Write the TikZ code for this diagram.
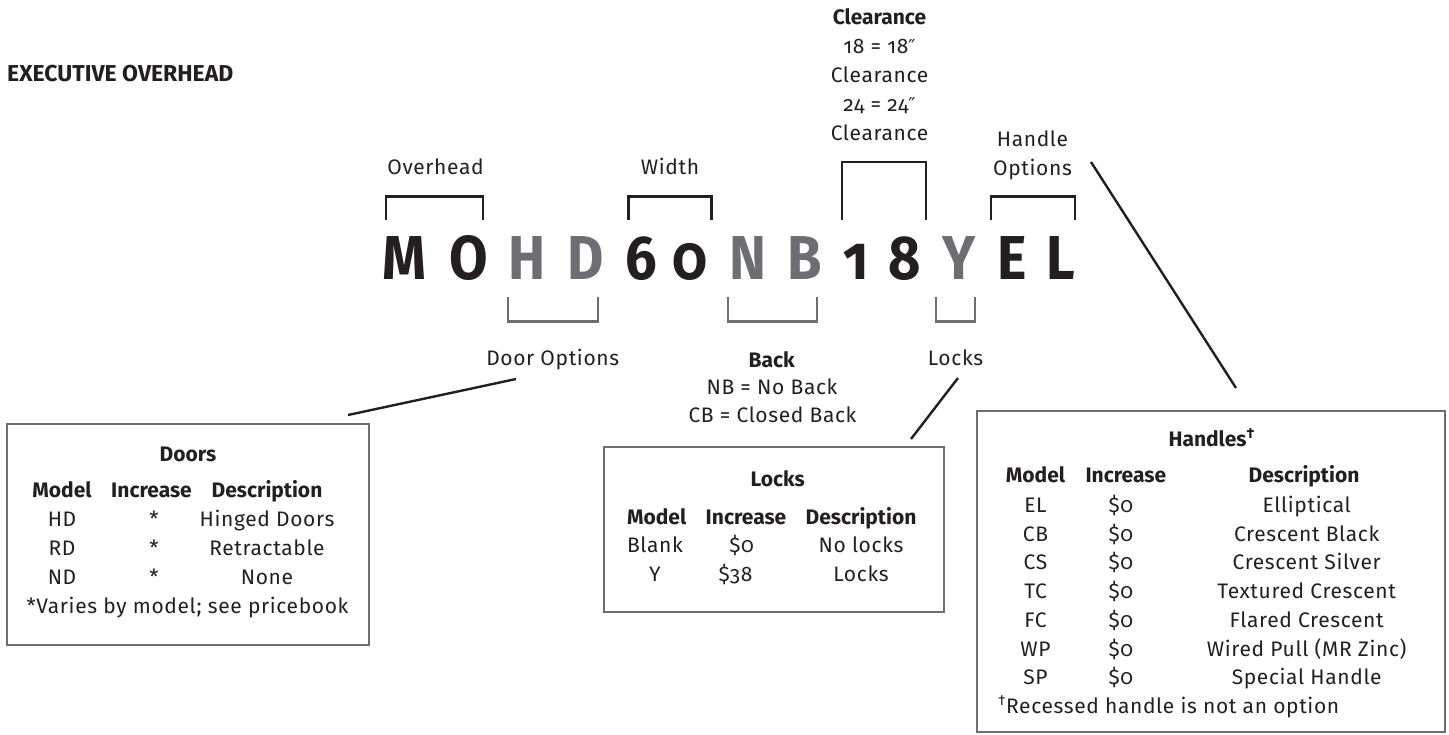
\documentclass[tikz,border=0pt]{standalone}
\usepackage{fontspec}
\setmainfont{Fira Sans}[Numbers=OldStyle]
\newfontfamily\regf{Fira Sans}[Numbers=OldStyle,LetterSpace=3]
\newfontfamily\symf{DejaVu Sans}
\definecolor{ink}{HTML}{231F20}
\definecolor{mid}{HTML}{6D6E71}
\newcommand{\dprime}{{\symf\fontsize{19}{25}\selectfont ″}}
\begin{document}
\begin{tikzpicture}[x=1pt,y=-1pt,
  txt/.style={anchor=base, inner sep=0pt, text=ink, font=\fontsize{21}{25}\regf},
  btxt/.style={anchor=base, inner sep=0pt, text=ink, font=\fontsize{21}{25}\selectfont\bfseries},
  big/.style={anchor=base, inner sep=0pt, font=\fontsize{62}{62}\selectfont\bfseries},
  dk/.style={text=ink},
  gr/.style={text=mid},
  brk/.style={draw=ink, line width=2.6pt},
  lbrk/.style={draw=mid, line width=2.6pt},
  box/.style={draw=mid, line width=2.5pt, inner sep=0pt},
  lead/.style={draw=ink, line width=2.4pt}]
\useasboundingbox (0,0) rectangle (1449,735);

% title
\node[anchor=base west, inner sep=0pt, text=ink, font=\fontsize{23}{25}\selectfont\bfseries] (title) at (7,81.7) {EXECUTIVE OVERHEAD};

% big code letters
\node[big,dk] (cM) at (404.7,279.3) {\scalebox{0.9}[1]{M}};
\node[big,dk] (cO) at (468.3,279.3) {\scalebox{0.9}[1]{O}};
\node[big,gr] (cH) at (527,279.3) {\scalebox{0.9}[1]{H}};
\node[big,gr] (cD) at (586,279.3) {\scalebox{0.9}[1]{D}};
\node[big,dk] (c6) at (641,279.3) {\scalebox{0.9}[1]{6}};
\node[big,dk] (c0) at (690,279.3) {\scalebox{0.9}[1]{0}};
\node[big,gr] (cN) at (747.5,279.3) {\scalebox{0.9}[1]{N}};
\node[big,gr] (cB) at (805,279.3) {\scalebox{0.9}[1]{B}};
\node[big,dk] (c1) at (856,279.3) {\scalebox{0.9}[1]{1}};
\node[big,dk] (c8) at (905,279.3) {\scalebox{0.9}[1]{8}};
\node[big,gr] (cY) at (959,279.3) {\scalebox{0.9}[1]{Y}};
\node[big,dk] (cE) at (1011.7,279.3) {\scalebox{0.9}[1]{E}};
\node[big,dk] (cL) at (1061,279.3) {\scalebox{0.9}[1]{L}};

% top labels
\node[txt] (lover) at (435.5,174.5) {Overhead};
\node[txt] (lwidth) at (670,174.5) {Width};
\node[btxt] (lclr) at (879.5,25) {Clearance};
\node[txt] (lclr1) at (879.5,54) {18 = 18\dprime};
\node[txt] (lclr2) at (879.5,83) {Clearance};
\node[txt] (lclr3) at (879.5,112) {24 = 24\dprime};
\node[txt] (lclr4) at (879.5,141) {Clearance};
\node[txt] (lhand1) at (1032.5,147) {Handle};
\node[txt] (lhand2) at (1032.5,175.5) {Options};

% top brackets
\draw[brk] (386,220) -- (386,196.5) -- (483,196.5) -- (483,220);
\draw[brk] (628.5,220) -- (628.5,196.5) -- (711.5,196.5) -- (711.5,220);
\draw[brk] (842,220) -- (842,162) -- (926,162) -- (926,220);
\draw[brk] (991,220) -- (991,196.5) -- (1075,196.5) -- (1075,220);

% lower brackets
\draw[lbrk] (508,297) -- (508,321.5) -- (598,321.5) -- (598,297);
\draw[lbrk] (728,297) -- (728,321.5) -- (817,321.5) -- (817,297);
\draw[lbrk] (936,297) -- (936,321.5) -- (975,321.5) -- (975,297);

% lower labels
\node[txt] (ldoor) at (552.7,365.5) {Door Options};
\node[btxt] (lback) at (771.7,367.5) {Back};
\node[txt] (lback1) at (772,394.2) {NB = No Back};
\node[txt] (lback2) at (772.5,422.5) {CB = Closed Back};
\node[txt] (llocks) at (955.5,365.5) {Locks};

% boxes
\node[box, minimum width=362pt, minimum height=221pt] (doorsbox) at (188,534.5) {};
\node[box, minimum width=340pt, minimum height=165pt] (locksbox) at (774,529.5) {};
\node[box, minimum width=468pt, minimum height=321pt] (handbox) at (1211,571.5) {};

% leader lines
\coordinate (dA) at (516,379);
\coordinate (dB) at (348,415);
\coordinate (kA) at (958,378);
\coordinate (kB) at (911,439);
\coordinate (hA) at (1091,162);
\coordinate (hB) at (1236,388);
\draw[lead] (dA) -- (dB);
\draw[lead] (kA) -- (kB);
\draw[lead] (hA) -- (hB);

% Doors table
\node[btxt] (dT) at (188,461.5) {Doors};
\node[btxt] (dH1) at (62,497.5) {Model};
\node[btxt] (dH2) at (151.5,497.5) {Increase};
\node[btxt] (dH3) at (267,497.5) {Description};
\node[txt] (d11) at (62,526.5) {HD};
\node[txt] (d12) at (154,526.5) {*};
\node[txt] (d13) at (267,526.5) {Hinged Doors};
\node[txt] (d21) at (62,555.5) {RD};
\node[txt] (d22) at (154,555.5) {*};
\node[txt] (d23) at (267,555.5) {Retractable};
\node[txt] (d31) at (62,584.5) {ND};
\node[txt] (d32) at (154,584.5) {*};
\node[txt] (d33) at (267,584.5) {None};
\node[txt] (dF) at (187.5,613.5) {*Varies by model; see pricebook};

% Locks table
\node[btxt] (kT) at (777.7,486) {Locks};
\node[btxt] (kH1) at (656.7,524) {Model};
\node[btxt] (kH2) at (746,524) {Increase};
\node[btxt] (kH3) at (861,524) {Description};
\node[txt] (k11) at (655,552.5) {Blank};
\node[txt] (k12) at (741.5,552.5) {\$0};
\node[txt] (k13) at (861,552.5) {No locks};
\node[txt] (k21) at (655,581) {Y};
\node[txt] (k22) at (735.5,581) {\$38};
\node[txt] (k23) at (861,581) {Locks};

% Handles table
\node[btxt] (hT) at (1211.7,446) {Handles\textsuperscript{†}};
\node[btxt] (hH1) at (1035.5,482.5) {Model};
\node[btxt] (hH2) at (1125.8,482.5) {Increase};
\node[btxt] (hH3) at (1304,482.5) {Description};
\foreach \m/\d [count=\i from 0] in {EL/Elliptical,CB/Crescent Black,CS/Crescent Silver,TC/Textured Crescent,FC/Flared Crescent,WP/Wired Pull (MR Zinc),SP/Special Handle}{
  \node[txt] (hm\i) at (1035.5,512.5+28.7*\i) {\m};
  \node[txt] (hi\i) at (1120.8,512.5+28.7*\i) {\$0};
  \node[txt] (hd\i) at (1306.7,512.5+28.7*\i) {\d};
}
\node[txt, anchor=base west] (hF) at (998,713) {\textsuperscript{†}Recessed handle is not an option};
\end{tikzpicture}
\end{document}
